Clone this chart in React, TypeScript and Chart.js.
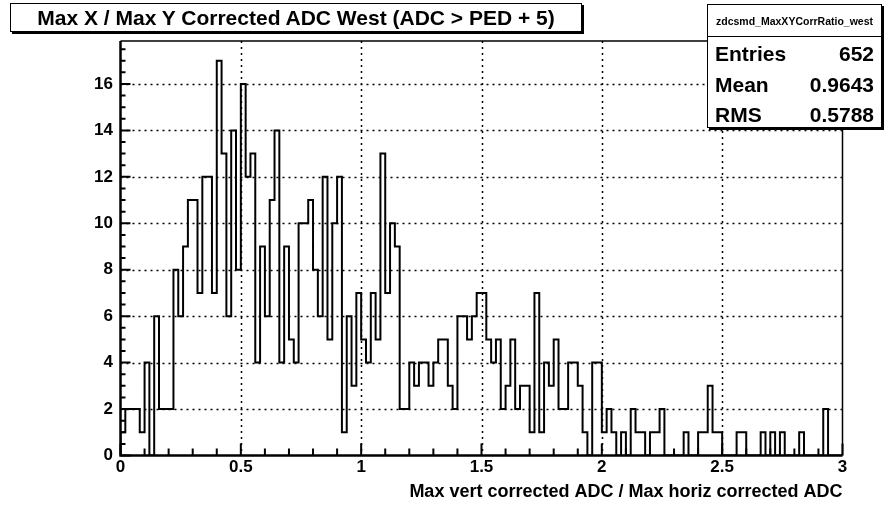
import React, { useEffect, useRef } from "react";
import { Chart, registerables } from "chart.js";

Chart.register(...registerables);

// ---- data ----
const counts: number[] = [
  1, 1, 2, 2, 2, 1, 4, 0, 6, 2,
  2, 2, 8, 6, 9, 11, 11, 7, 12, 12,
  7, 17, 13, 6, 14, 8, 16, 12, 13, 4,
  9, 6, 11, 14, 4, 9, 5, 4, 10, 10,
  11, 8, 6, 12, 5, 10, 12, 1, 6, 3,
  7, 5, 4, 7, 5, 13, 7, 10, 9, 2,
  2, 4, 3, 4, 4, 3, 4, 5, 5, 3,
  2, 6, 6, 5, 6, 7, 7, 5, 4, 5,
  2, 3, 5, 2, 3, 3, 1, 7, 1, 4,
  3, 5, 2, 2, 4, 4, 3, 1, 0, 4,
  4, 1, 2, 1, 0, 1, 0, 2, 1, 1,
  0, 1, 1, 2, 0, 0, 0, 0, 1, 0,
  0, 1, 1, 3, 1, 1, 0, 0, 0, 1,
  1, 0, 0, 0, 1, 0, 1, 0, 1, 0,
  0, 0, 1, 0, 0, 0, 0, 2, 0, 0,
];
const xMin = 0;
const xMax = 3;
const binWidth = 0.02;
const yMax = 17.85;

const xTickValues = [0, 0.5, 1, 1.5, 2, 2.5, 3];
const xTickLabels = ["0", "0.5", "1", "1.5", "2", "2.5", "3"];
const yTickValues = [0, 2, 4, 6, 8, 10, 12, 14, 16];
const yTickLabels = ["0", "2", "4", "6", "8", "10", "12", "14", "16"];
const xGridValues = [0.5, 1, 1.5, 2, 2.5];
const yGridValues = [2, 4, 6, 8, 10, 12, 14, 16];
const xMinorStep = 0.1;
const yMinorStep = 0.5;

const titleText = "Max X / Max Y Corrected ADC West (ADC > PED + 5)";
const xAxisTitle = "Max vert corrected ADC / Max horiz corrected ADC";
const statsName = "zdcsmd_MaxXYCorrRatio_west";
const statsLabels = ["Entries", "Mean", "RMS"];
const statsValues = ["652", "0.9643", "0.5788"];

const FONT = '"Liberation Sans", Arial, Helvetica, sans-serif';

const rootFrame = {
  id: "rootFrame",
  beforeDatasetsDraw(chart: any) {
    const { ctx, chartArea: a, scales } = chart;
    const x = scales.x;
    const y = scales.y;
    ctx.save();
    ctx.strokeStyle = "#000";
    ctx.lineWidth = 1.5;
    ctx.setLineDash([2, 4]);
    ctx.beginPath();
    for (const v of xGridValues) {
      const px = Math.round(x.getPixelForValue(v)) + 0.5;
      ctx.moveTo(px, a.top);
      ctx.lineTo(px, a.bottom);
    }
    for (const v of yGridValues) {
      const py = Math.round(y.getPixelForValue(v)) + 0.5;
      ctx.moveTo(a.left, py);
      ctx.lineTo(a.right, py);
    }
    ctx.stroke();
    ctx.restore();
  },
  afterDatasetsDraw(chart: any) {
    const { ctx, chartArea: a, scales } = chart;
    const x = scales.x;
    const y = scales.y;
    ctx.save();
    ctx.strokeStyle = "#000";
    ctx.setLineDash([]);
    // frame
    ctx.lineWidth = 1.5;
    ctx.beginPath();
    ctx.moveTo(a.left, a.top);
    ctx.lineTo(a.right, a.top);
    ctx.lineTo(a.right, a.bottom);
    ctx.stroke();
    ctx.lineWidth = 2.5;
    ctx.beginPath();
    ctx.moveTo(a.left, a.top);
    ctx.lineTo(a.left, a.bottom);
    ctx.lineTo(a.right, a.bottom);
    ctx.stroke();
    // ticks
    ctx.lineWidth = 2;
    ctx.beginPath();
    const ny = Math.floor(yMax / yMinorStep + 1e-9);
    for (let i = 0; i <= ny; i++) {
      const v = i * yMinorStep;
      const major = i % 4 === 0;
      const py = y.getPixelForValue(v);
      ctx.moveTo(a.left, py);
      ctx.lineTo(a.left + (major ? 10 : 5), py);
    }
    const nx = Math.round((xMax - xMin) / xMinorStep);
    for (let i = 0; i <= nx; i++) {
      const v = xMin + i * xMinorStep;
      const major = i % 5 === 0;
      const px = x.getPixelForValue(v);
      ctx.moveTo(px, a.bottom);
      ctx.lineTo(px, a.bottom - (major ? 12 : 7));
    }
    ctx.stroke();
    ctx.restore();
  },
};

export default function App() {
  const ref = useRef<HTMLCanvasElement>(null);

  useEffect(() => {
    const points = counts.map((c, i) => ({ x: xMin + i * binWidth, y: c }));
    const data = [{ x: xMin, y: 0 }, ...points, { x: xMax, y: 0 }];
    const tickFont = { family: FONT, size: 17, weight: "bold" as const };
    const chart = new Chart(ref.current as HTMLCanvasElement, {
      type: "line",
      data: {
        datasets: [
          {
            data,
            stepped: "after",
            borderColor: "#000",
            borderWidth: 2,
            pointRadius: 0,
            fill: false,
            tension: 0,
          } as any,
        ],
      },
      options: {
        responsive: false,
        animation: false,
        devicePixelRatio: 1,
        layout: { padding: { left: 0, right: 45.5, top: 41, bottom: 0 } },
        plugins: {
          legend: { display: false },
          tooltip: { enabled: false },
          title: { display: false },
        },
        scales: {
          x: {
            type: "linear",
            min: xMin,
            max: xMax,
            grid: { display: false, drawTicks: false },
            border: { display: false },
            ticks: {
              font: tickFont,
              color: "#000",
              padding: 2,
              maxRotation: 0,
              autoSkip: false,
              callback: (_v: any, i: number) => xTickLabels[i],
            },
            afterBuildTicks: (s: any) => {
              s.ticks = xTickValues.map((v) => ({ value: v }));
            },
            afterFit: (s: any) => {
              s.height = 50.5;
            },
            title: {
              display: true,
              text: xAxisTitle,
              align: "end",
              color: "#000",
              font: { family: FONT, size: 18, weight: "bold" },
              padding: { top: 0, bottom: 3 },
            },
          },
          y: {
            type: "linear",
            min: 0,
            max: yMax,
            grid: { display: false, drawTicks: false },
            border: { display: false },
            ticks: {
              font: tickFont,
              color: "#000",
              padding: 7.5,
              autoSkip: false,
              callback: (_v: any, i: number) => yTickLabels[i],
            },
            afterBuildTicks: (s: any) => {
              s.ticks = yTickValues.map((v) => ({ value: v }));
            },
            afterFit: (s: any) => {
              s.width = 120.5;
            },
          },
        },
      } as any,
      plugins: [rootFrame as any],
    });
    return () => chart.destroy();
  }, []);

  return (
    <div
      style={{
        position: "absolute",
        left: 0,
        top: 0,
        width: 888,
        height: 506,
        background: "#fff",
        fontFamily: FONT,
        color: "#000",
      }}
    >
      <canvas
        ref={ref}
        width={888}
        height={506}
        style={{ display: "block", width: 888, height: 506 }}
      />
      <div
        style={{
          position: "absolute",
          left: 10,
          top: 3,
          width: 572,
          height: 29,
          boxSizing: "border-box",
          border: "1px solid #000",
          boxShadow: "2px 2px 0 #000",
          background: "#fff",
          display: "flex",
          alignItems: "center",
          justifyContent: "center",
          fontWeight: "bold",
          fontSize: 21,
          whiteSpace: "nowrap",
        }}
      >
        {titleText}
      </div>
      <div
        style={{
          position: "absolute",
          left: 707,
          top: 4,
          width: 175,
          height: 124,
          boxSizing: "border-box",
          border: "1px solid #000",
          boxShadow: "2px 2px 0 #000",
          background: "#fff",
        }}
      >
        <div
          style={{
            height: 31,
            borderBottom: "1px solid #000",
            display: "flex",
            alignItems: "center",
            justifyContent: "center",
            fontWeight: "bold",
            fontSize: 10.5,
            whiteSpace: "nowrap",
          }}
        >
          {statsName}
        </div>
        {statsLabels.map((label, i) => (
          <div
            key={label}
            style={{
              position: "absolute",
              left: 7,
              right: 7,
              top: 34 + i * 30.5,
              height: 30,
              display: "flex",
              alignItems: "center",
              justifyContent: "space-between",
              fontWeight: "bold",
              fontSize: 21,
              whiteSpace: "nowrap",
            }}
          >
            <span>{label}</span>
            <span>{statsValues[i]}</span>
          </div>
        ))}
      </div>
    </div>
  );
}
